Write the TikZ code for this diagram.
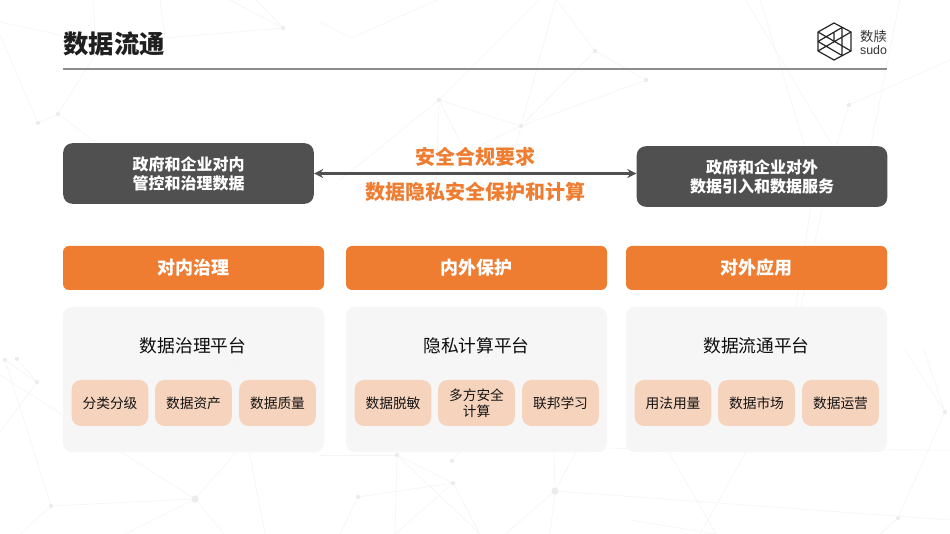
\documentclass[tikz,border=0pt]{standalone}
\usepackage{fontspec}
\setmainfont{Noto Sans CJK SC}
\newfontfamily\latinfont{Liberation Sans}
\usetikzlibrary{arrows,calc}
\definecolor{sdorange}{HTML}{EE7D31}
\definecolor{sddark}{HTML}{505050}
\definecolor{sdchip}{HTML}{F6D3BC}
\definecolor{sdpanel}{HTML}{F6F6F6}
\definecolor{sdweb}{HTML}{F5F5F5}
\definecolor{sddot}{HTML}{ECECEC}
\begin{document}
\begin{tikzpicture}[x=0.75pt,y=-0.75pt,>=stealth,
			dot/.style={circle,fill=sddot,inner sep=0pt,minimum size=3.2pt},
			bigdot/.style={circle,fill=sddot,inner sep=0pt,minimum size=5.5pt},
			darkbox/.style={rectangle,rounded corners=7pt,fill=sddark,text=white,font=\fontsize{12}{14.3}\selectfont\bfseries,align=center,minimum width=188pt,minimum height=45.5pt,inner sep=0pt},
			headbox/.style={rectangle,rounded corners=4.5pt,fill=sdorange,text=white,font=\fontsize{13.5}{16}\selectfont\bfseries,minimum width=195.75pt,minimum height=33pt,inner sep=0pt},
			panelbox/.style={rectangle,rounded corners=7pt,fill=sdpanel,fill opacity=0.9,minimum width=195.75pt,minimum height=109pt,inner sep=0pt},
			chipbox/.style={rectangle,rounded corners=7pt,fill=sdchip,text=black!92,font=\fontsize{10.3}{12}\selectfont,align=center,minimum width=57.5pt,minimum height=34.5pt,inner sep=0pt},
			paneltitle/.style={text=black!95,font=\fontsize{13.3}{16}\selectfont},
			midtext/.style={text=sdorange,font=\fontsize{15}{18}\selectfont\bfseries},
			webline/.style={draw=sdweb,line width=0.45pt},
			logoline/.style={draw=black!85,line width=0.9pt,line join=round}]
		\useasboundingbox (0,0) rectangle (950,534);
		\fill [white] (0,0) rectangle (950,534);
		% background web
		\begin{scope}
			\clip (0,0) rectangle (950,534);
			\foreach \n/\x/\y in {t1/0/22,t2/60/35,t3/0/35,t4/93/0,t29/95/30,t5/160/0,t6/95/142,t7/95/55,t8/228/-1,t9/255/-1,t10/165/38,t11/320/22,t12/351/38,t13/440/-1,t14/540/-1,t15/556/-1,t17/340/180,t18/436/185,t19/490/200,t20/470/150,t21/505/190,t22/745/-1,t23/835/150,t24/760/-1,t25/815/180,t26/950/60,t27/900/-1,t28/870/150,b1/340/534,b2/395/534,b3/320/510,b4/452/534,b5/480/534,b6/505/534,b7/550/534,b8/950/520,b9/716/534,b10/630/520,b11/950/450,b12/0/432,b13/20/534,b14/125/534,b15/224/534,b16/265/534,b17/0/505,b18/905/350,b19/924/350,b20/880/534,b21/320/455,b22/630/385,b23/700/534,b24/0/375}
				\coordinate (\n) at (\x,\y);
			\path 	(38,123) node (w1) [dot] {}
				(58,114) node (w2) [dot] {}
				(283,28) node (w3) [dot] {}
				(439,100) node (w4) [dot] {}
				(521,126) node (w5) [dot] {}
				(595,51) node (w6) [dot] {}
				(646,80) node (w7) [dot] {}
				(849,105) node (w8) [dot] {}
				(397,455) node (w9) [dot] {}
				(452,461) node (w10) [dot] {}
				(453,483) node (w11) [dot] {}
				(358,497) node (w12) [dot] {}
				(555,491) node (w13) [bigdot] {}
				(578,448) node (w14) [dot] {}
				(559,386) node (w15) [bigdot] {}
				(553,410) node (w16) [dot] {}
				(410,382) node (w17) [dot] {}
				(517,387) node (w18) [bigdot] {}
				(5,360) node (w19) [dot] {}
				(17,359) node (w20) [dot] {}
				(37,382) node (w21) [dot] {}
				(51,506) node (w22) [dot] {}
				(195,499) node (w23) [bigdot] {}
				(247,440) node (w24) [dot] {}
				(290,388) node (w25) [dot] {}
				(237,365) node (w26) [bigdot] {}
				(168,366) node (w27) [dot] {}
				(96,379) node (w28) [dot] {}
				(784,384) node (w29) [bigdot] {}
				(945,412) node (w30) [dot] {}
				(898,518) node (w31) [dot] {};
			\foreach \a/\b in {t1/t2,t3/w1,w1/w2,w2/t7,w2/t6,t4/t29,t5/t10,w3/t10,w3/t8,w3/t9,t11/t12,t12/t13,w4/t14,w4/w5,w5/t15,t15/w6,w5/w6,w6/w7,w5/w7,w4/t17,w4/t18,w4/t19,w5/t20,w5/t21,t22/t23,t24/t25,w8/t26,w8/t23,t27/t28,t23/w29,t25/w29,w17/w9,w9/w11,w9/b2,w9/b5,w9/b21,w10/w18,w12/b1,w12/w11,w11/b2,w11/b5,w13/w14,w13/w16,w13/b6,w13/b7,w13/b8,w14/w16,w14/b11,w16/w15,w19/w22,w19/w21,w20/w21,w23/w22,w23/w24,w23/b14,w23/b15,w24/w25,w24/b16,w21/b12,w22/b13,w29/b23,w30/w31,w31/b20,w30/b18,w30/b19,b10/b9,b22/b9,b24/w23}
				\draw [webline] (\a) -- (\b);
		\end{scope}
		% header
		\path (114,44) node (title) [text=black!88,font=\fontsize{19}{22}\selectfont\bfseries] {数据流通};
		\coordinate (ruleL) at (63,69);
		\coordinate (ruleR) at (887,69);
		\draw [black!45,line width=0.8pt] (ruleL) -- (ruleR);
		% logo
		\path (834,23) coordinate (h1) (851,32) coordinate (h2) (851,51) coordinate (h3)
			(834,60) coordinate (h4) (818,51) coordinate (h5) (818,32) coordinate (h6)
			(834,41.5) coordinate (hc) (842,27.5) coordinate (h7) (842,55.5) coordinate (h8)
			(818,41.5) coordinate (h9) (834,32) coordinate (h10);
		\draw [logoline] (h1) -- (h2) -- (h3) -- (h4) -- (h5) -- (h6) -- cycle;
		\draw [logoline] (h9) -- (h7) (h5) -- (h2) (h6) -- (h3) (h9) -- (h8) (h7) -- (h8) (h10) -- (hc);
		\path (873.5,36) node (logocn) [text=black!80,font=\fontsize{10}{12}\selectfont] {数牍}
			(873.5,50) node (logoen) [text=black!80,font=\fontsize{9.3}{11}\selectfont\latinfont] {sudo};
		% top row
		\path 	(188.5,173.5) node (lbox) [darkbox] {政府和企业对内\\管控和治理数据}
			(762,176.5) node (rbox) [darkbox] {政府和企业对外\\数据引入和数据服务}
			(475,156.5) node (needs) [midtext] {安全合规要求}
			(475,191.5) node (privacy) [midtext] {数据隐私安全保护和计算};
		\draw [<->,sddark,line width=2pt] (lbox.east) -- (lbox.east -| rbox.west);
		% three columns
		\path 	(193.5,268) node (head1) [headbox] {对内治理}
			(476.5,268) node (head2) [headbox] {内外保护}
			(756.5,268) node (head3) [headbox] {对外应用}
			(193.5,379.5) node (panel1) [panelbox] {}
			(476.5,379.5) node (panel2) [panelbox] {}
			(756.5,379.5) node (panel3) [panelbox] {}
			(193,346) node (plat1) [paneltitle] {数据治理平台}
			(476.5,346) node (plat2) [paneltitle] {隐私计算平台}
			(756.5,346) node (plat3) [paneltitle] {数据流通平台};
		\path 	(110,403) node (c11) [chipbox] {分类分级}
			(193.5,403) node (c12) [chipbox] {数据资产}
			(277.5,403) node (c13) [chipbox] {数据质量}
			(393,403) node (c21) [chipbox] {数据脱敏}
			(476.5,403) node (c22) [chipbox] {多方安全\\计算}
			(560.5,403) node (c23) [chipbox] {联邦学习}
			(673,403) node (c31) [chipbox] {用法用量}
			(756.5,403) node (c32) [chipbox] {数据市场}
			(840.5,403) node (c33) [chipbox] {数据运营};
	\end{tikzpicture}
\end{document}
